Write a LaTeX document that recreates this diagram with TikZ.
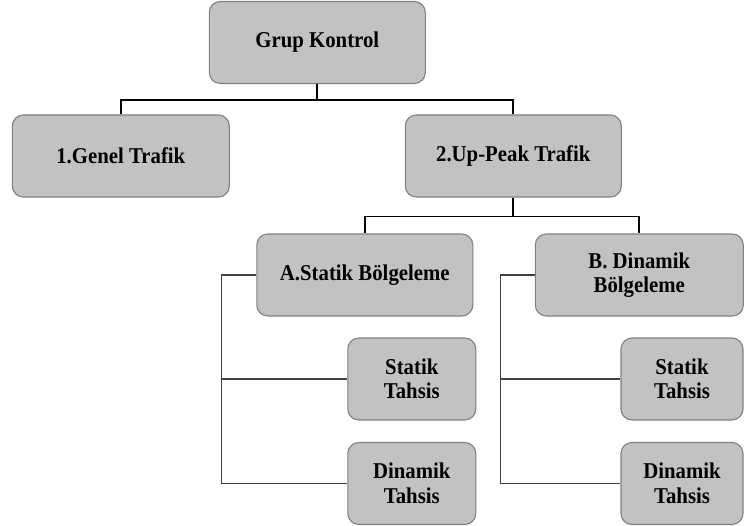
\documentclass[tikz,border=0pt]{standalone}
\usepackage{fontspec}
\setmainfont{Liberation Serif}[FakeStretch=0.92]
\usetikzlibrary{positioning}

\begin{document}
\begin{tikzpicture}[x=1pt,y=-1pt,
  kutu/.style={draw=black!50,fill=black!24,line width=1.1pt,rounded corners=11pt,
    minimum height=82pt,align=center,inner sep=2pt,
    font=\fontsize{22.6}{24.5}\selectfont\bfseries},
  ana/.style={line width=1.7pt},
  dal/.style={draw=black!75,line width=1.1pt}]
  \useasboundingbox (0,0) rectangle (744,526);
% main levels
  \node[kutu,minimum width=216pt] (grup) at (317.3,42.5) {Grup Kontrol};
  \node[kutu,minimum width=217pt] (genel) at (120.8,156) {1.Genel Trafik};
  \node[kutu,minimum width=216pt] (up) at (513.3,156) {2.Up-Peak Trafik};
  \node[kutu,minimum width=216pt] (statb) at (364.8,275) {A.Statik Bölgeleme};
  \node[kutu,minimum width=208pt] (dinb) at (639.3,275) {B. Dinamik\\Bölgeleme};
% tahsis boxes
  \node[kutu,minimum width=128pt] (sta1) at (411.8,379) {Statik\\Tahsis};
  \node[kutu,minimum width=128pt] (din1) at (411.8,483.5) {Dinamik\\Tahsis};
  \node[kutu,minimum width=122pt] (sta2) at (682,379) {Statik\\Tahsis};
  \node[kutu,minimum width=122pt] (din2) at (682,483.5) {Dinamik\\Tahsis};
% connectors
  \draw[ana] (grup.south) -- ++(0,16) -| (genel.north);
  \draw[ana] (grup.south) -- ++(0,16) -| (up.north);
  \draw[ana] (up.south) -- ++(0,19) -| (statb.north);
  \draw[ana] (up.south) -- ++(0,19) -| (dinb.north);
  \draw[dal] (statb.west) -- ++(-34.8,0) coordinate (a) |- (din1.west);
  \draw[dal] (a) |- (sta1.west);
  \draw[dal] (dinb.west) -- ++(-34,0) coordinate (b) |- (din2.west);
  \draw[dal] (b) |- (sta2.west);
\end{tikzpicture}
\end{document}
